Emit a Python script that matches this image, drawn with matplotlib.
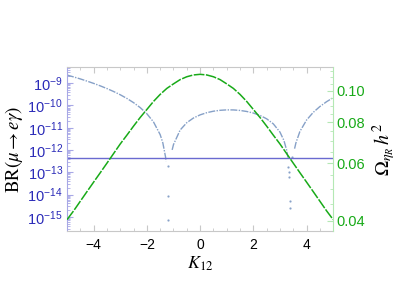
import numpy as np
import matplotlib.pyplot as plt
from matplotlib.ticker import FixedLocator, FixedFormatter, NullFormatter, LogLocator

plt.rcParams['font.family'] = ['Liberation Sans', 'DejaVu Sans']
plt.rcParams['mathtext.fontset'] = 'custom'
plt.rcParams['mathtext.rm'] = 'Liberation Sans'
plt.rcParams['mathtext.it'] = 'Liberation Sans:italic'
plt.rcParams['mathtext.bf'] = 'Liberation Sans:bold'

# BR(mu -> e gamma) vs K12, three branches between the two zeros
k_left = [-5.0, -4.75, -4.5, -4.25, -4.0, -3.75, -3.5, -3.25, -3.0, -2.75, -2.5,
          -2.25, -2.0, -1.75, -1.5, -1.4, -1.3, -1.28]
br_left = [2.30e-9, 1.89e-9, 1.54e-9, 1.23e-9, 9.70e-10, 7.51e-10, 5.69e-10, 4.20e-10,
           3.00e-10, 2.05e-10, 1.33e-10, 7.96e-11, 4.22e-11, 1.81e-11, 4.88e-12,
           2.08e-12, 4.99e-13, 3.17e-13]
k_mid = [-1.05, -1.0, -0.75, -0.5, -0.25, 0.0, 0.25, 0.5, 0.75, 1.0, 1.25, 1.5, 1.75,
         2.0, 2.25, 2.5, 2.75, 3.0, 3.15, 3.25, 3.3]
br_mid = [1.01e-12, 1.75e-12, 7.88e-12, 1.68e-11, 2.72e-11, 3.76e-11, 4.71e-11, 5.49e-11,
          6.03e-11, 6.30e-11, 6.27e-11, 5.95e-11, 5.35e-11, 4.54e-11, 3.56e-11, 2.51e-11,
          1.49e-11, 6.38e-12, 2.67e-12, 1.01e-12, 4.58e-13]
k_right = [3.55, 3.6, 3.75, 4.0, 4.25, 4.5, 4.75, 5.0]
br_right = [1.15e-12, 2.08e-12, 6.78e-12, 2.20e-11, 4.85e-11, 8.88e-11, 1.46e-10, 2.22e-10]
# scattered points close to the zeros
k_dip = [-1.22, -1.20, -1.19, 3.32, 3.33, 3.35, 3.38, 3.39, 3.46]
br_dip = [1.9e-13, 8.7e-15, 7.4e-16, 1.7e-13, 1.04e-13, 6.2e-14, 5.2e-15, 2.5e-15, 4.9e-13]
br_limit = 4.2e-13

# relic density vs K12
k_relic = [-5.0, -4.75, -4.5, -4.25, -4.0, -3.75, -3.5, -3.25, -3.0, -2.75, -2.5, -2.25,
           -2.0, -1.75, -1.5, -1.25, -1.0, -0.75, -0.5, -0.25, 0.0, 0.25, 0.5, 0.75,
           1.0, 1.25, 1.5, 1.75, 2.0, 2.25, 2.5, 2.75, 3.0, 3.25, 3.5, 3.75, 4.0, 4.25,
           4.5, 4.75, 5.0]
relic = [0.0403, 0.0429, 0.0459, 0.0491, 0.0525, 0.0561, 0.0600, 0.0642, 0.0687, 0.0731,
         0.0779, 0.0828, 0.0876, 0.0927, 0.0974, 0.1016, 0.1049, 0.1081, 0.1103, 0.1117,
         0.1122, 0.1117, 0.1103, 0.1081, 0.1049, 0.1016, 0.0974, 0.0927, 0.0876, 0.0828,
         0.0779, 0.0731, 0.0687, 0.0642, 0.0600, 0.0561, 0.0525, 0.0491, 0.0459, 0.0429,
         0.0403]

blue = '#5e81b5'
green = '#18aa18'
fig = plt.figure(figsize=(3.99, 2.98), dpi=100)
ax = fig.add_axes([0.168, 0.225, 0.667, 0.55])
ax2 = ax.twinx()

for kk, bb in [(k_left, br_left), (k_mid, br_mid), (k_right, br_right)]:
    ax.plot(kk, bb, color=blue, lw=1.0, ls=(0, (5, 1, 1, 1)), alpha=0.75)
ax.plot(k_dip, br_dip, ls='none', marker='.', ms=1.2, color=blue, alpha=0.7)
ax.axhline(br_limit, color='#6a6ad0', lw=1.0)
ax2.plot(k_relic, relic, color=green, lw=1.1, ls=(0, (7, 1)))

ax.set_xlim(-5, 5)
ax.set_yscale('log')
ax.set_ylim(10**-15.63, 10**-8.28)
ax.yaxis.set_major_locator(FixedLocator([10.0**e for e in range(-15, -8)]))
ax.yaxis.set_major_formatter(FixedFormatter([r'$10^{%d}$' % e for e in range(-15, -8)]))
ax.yaxis.set_minor_locator(LogLocator(base=10, subs=np.arange(2, 10), numticks=20))
ax.yaxis.set_minor_formatter(NullFormatter())
ax.set_xticks([-4, -2, 0, 2, 4])
ax.set_xticklabels(['\u22124', '\u22122', '0', '2', '4'])
ax.xaxis.set_minor_locator(FixedLocator(np.arange(-5, 5.01, 0.5)))

ax2.set_yscale('log')
ax2.set_ylim(0.03721, 0.1181)
ax2.yaxis.set_major_locator(FixedLocator([0.04, 0.06, 0.08, 0.10]))
ax2.yaxis.set_major_formatter(FixedFormatter(['0.04', '0.06', '0.08', '0.10']))
ax2.yaxis.set_minor_locator(FixedLocator([0.045, 0.05, 0.055, 0.065, 0.07, 0.075, 0.085, 0.09, 0.095, 0.105, 0.11, 0.115]))
ax2.yaxis.set_minor_formatter(NullFormatter())

frame = '#c8c8c8'
for s in ['top', 'bottom']:
    ax.spines[s].set_color(frame)
    ax2.spines[s].set_visible(False)
ax.spines['right'].set_visible(False)
ax2.spines['left'].set_visible(False)
ax.spines['left'].set_color('#a8a8e6')
ax2.spines['right'].set_color('#b4e8b4')

ax.tick_params(axis='x', which='both', direction='in', top=True, colors=frame,
               labelcolor='black', labelsize=10, pad=5)
ax.tick_params(axis='x', which='major', length=4)
ax.tick_params(axis='x', which='minor', length=2)
ax.tick_params(axis='y', which='both', direction='in', colors='#a8a8e6',
               labelcolor='#2b2bb8', labelsize=10.5, pad=3)
ax.tick_params(axis='y', which='major', length=4)
ax.tick_params(axis='y', which='minor', length=2)
ax2.tick_params(axis='y', which='both', direction='in', colors='#b4e8b4',
                labelcolor=green, labelsize=10.5, pad=2)
ax2.tick_params(axis='y', which='major', length=4)
ax2.tick_params(axis='y', which='minor', length=2)

ax.set_xlabel(r'$K_{12}$', fontsize=13, math_fontfamily='stix', labelpad=2)
ax.set_ylabel(r'$\mathrm{BR}(\mu\rightarrow e\gamma)$', fontsize=13.5,
              math_fontfamily='stix', labelpad=2)
ax2.set_ylabel(r'$\Omega_{\eta_R}\,h^2$', fontsize=14.5, math_fontfamily='stix', labelpad=4)

fig.savefig('out.png', dpi=100)
